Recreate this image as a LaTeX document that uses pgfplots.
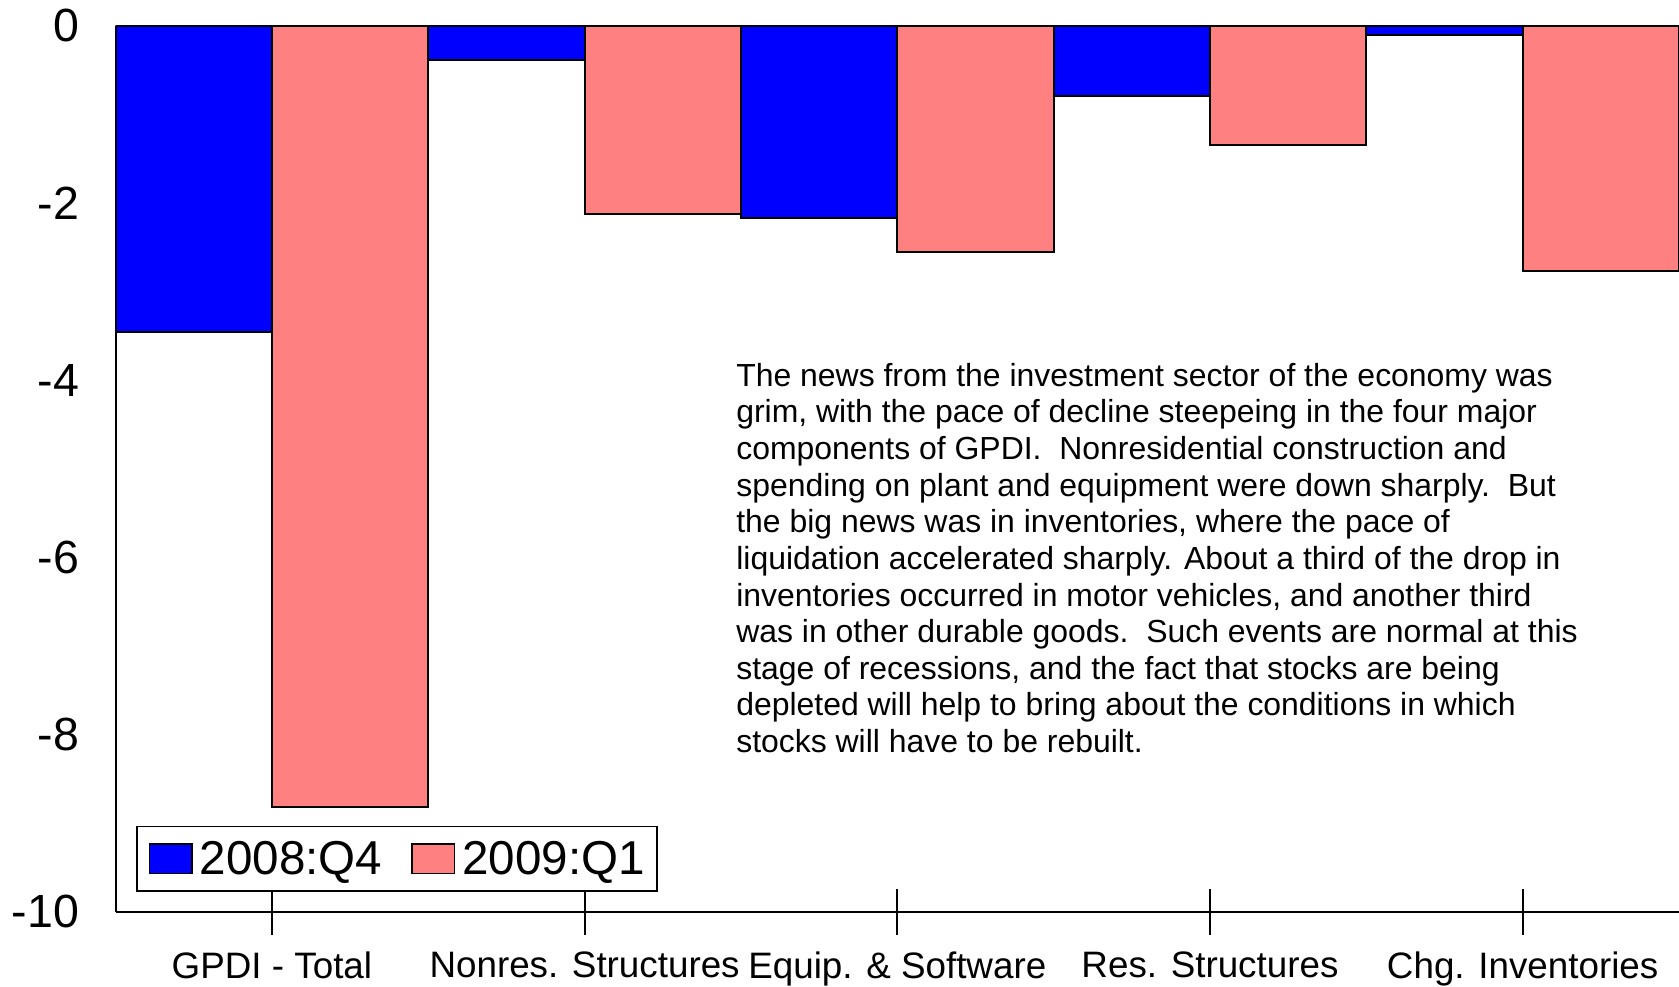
\documentclass[border=0pt]{standalone}
\usepackage{fontspec}
\setmainfont{Liberation Sans}
\usepackage{pgfplots}
\pgfplotsset{compat=1.18}
\usetikzlibrary{calc}
\definecolor{q4blue}{RGB}{0,0,255}
\definecolor{q1pink}{RGB}{255,128,128}

\begin{document}
\begin{tikzpicture}
  \begin{axis}[
    scale only axis,
    width=450.4pt, height=255.3pt,
    xmin=-0.5, xmax=4.5,
    ymin=-10, ymax=0,
    axis x line*=box, axis y line*=left,
    axis line style={-, line width=0.58pt},
    xtick={0,1,2,3,4},
    xticklabels={GPDI - Total, Nonres. Structures, Equip. \& Software, Res. Structures, Chg. Inventories},
    xtick pos=left,
    major tick length=13.1pt,
    xtick style={line width=0.58pt, black, yshift=6.55pt},
    xticklabel style={font=\fontsize{10.6}{12}\selectfont, inner sep=0pt, anchor=north, yshift=1.9pt},
    ytick={-10,-8,-6,-4,-2,0},
    yticklabels={-10,-8,-6,-4,-2,0},
    ytick style={draw=none},
    yticklabel style={font=\fontsize{13.4}{15}\selectfont, inner sep=0pt, anchor=east, xshift=-10.3pt},
    ybar, bar width=0.5,
    legend columns=2,
    legend style={at={(0,0)}, anchor=south west, xshift=5.9pt, yshift=5.8pt,
      draw=black, line width=0.5pt, inner xsep=3.4pt, inner ysep=4.2pt,
      nodes={inner sep=0pt, font=\fontsize{13.7}{15}\selectfont, text depth=0.6pt},
      /tikz/column sep=2pt,
      /tikz/every even column/.append style={column sep=8.4pt}},
    legend image code/.code={\draw[#1, line width=0.4pt] (0pt,-4.2pt) rectangle (12.3pt,4.2pt);},
  ]
  \addplot[fill=q4blue, draw=black, line width=0.58pt, bar shift=-0.25]
    coordinates {(0,-3.46) (1,-0.39) (2,-2.17) (3,-0.79) (4,-0.11)};
  \addlegendentry{2008:Q4}
  \addplot[fill=q1pink, draw=black, line width=0.58pt, bar shift=0.25]
    coordinates {(0,-8.82) (1,-2.12) (2,-2.55) (3,-1.35) (4,-2.77)};
  \addlegendentry{2009:Q1}
  \node[anchor=north west, inner sep=0pt, align=left,
        font=\fontsize{9.2}{10.55}\selectfont] at (axis cs:1.483,-3.80)
    {The news from the investment sector of the economy was\\
     grim, with the pace of decline steepeing in the four major\\
     components of GPDI.\ \ Nonresidential construction and\\
     spending on plant and equipment were down sharply.\ \ But\\
     the big news was in inventories, where the pace of\\
     liquidation accelerated sharply. About a third of the drop in\\
     inventories occurred in motor vehicles, and another third\\
     was in other durable goods.\ \ Such events are normal at this\\
     stage of recessions, and the fact that stocks are being\\
     depleted will help to bring about the conditions in which\\
     stocks will have to be rebuilt.};
  \end{axis}
  \pgfresetboundingbox
  \path ($(current axis.south west)+(-33.3pt,-21.6pt)$) rectangle ($(current axis.north east)+(0pt,7.4pt)$);
\end{tikzpicture}
\end{document}
